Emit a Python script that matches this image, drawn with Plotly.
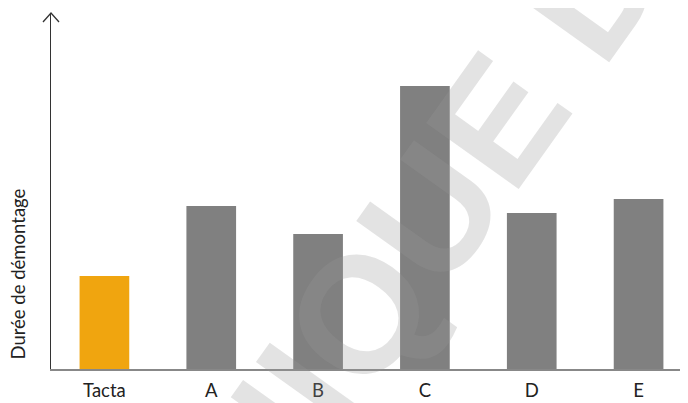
import plotly.graph_objects as go

categories = ["Tacta", "A", "B", "C", "D", "E"]
values = [93, 163, 135, 283, 156, 170]
bar_colors = ["#F0A50F", "#808080", "#808080", "#808080", "#808080", "#808080"]
y_title = "Durée de démontage"
watermark = "NIQUE DE"

OFF = 8  # page body margin
W, H = 688 - OFF, 403 - OFF
L, R, T, B = 51 - OFF, 0, 13 - OFF, 34
pw, ph = W - L - R, H - T - B

fig = go.Figure(go.Bar(x=categories, y=values, marker=dict(color=bar_colors, line=dict(width=0)),
                       width=0.465))

fig.update_layout(
    width=W, height=H,
    margin=dict(l=L, r=R, t=T, b=B, pad=0, autoexpand=False),
    paper_bgcolor="white", plot_bgcolor="white",
    showlegend=False,
    font=dict(family="Lato, 'Open Sans', sans-serif", size=18.5, color="#222"),
    xaxis=dict(range=[-0.5, 5.5 - 4 / 107.0], showline=True, linecolor="#888", linewidth=1.6,
               showgrid=False, zeroline=False, ticks="", tickfont=dict(size=18.5, color="#222"),
               ticklabelstandoff=4, fixedrange=True),
    yaxis=dict(range=[0, ph], showline=True, linecolor="#333", linewidth=1.3,
               showgrid=False, zeroline=False, showticklabels=False, ticks="", fixedrange=True),
)

# Y-axis arrow head
fig.add_shape(type="path", xref="paper", yref="paper", xsizemode="pixel", ysizemode="pixel",
              xanchor=0, yanchor=1, path="M -8,-9 L 0,0 L 8,-9",
              line=dict(color="#333", width=1.3))

# Y-axis title (bottom aligned near baseline)
fig.add_annotation(text=y_title, xref="paper", yref="paper", x=0, y=0, xshift=-(51 - 17),
                   yshift=7, xanchor="center", yanchor="bottom", textangle=-90, showarrow=False,
                   font=dict(size=18.5, color="#222"))

# Watermark (target centre in window pixels)
cx, cy = 458 - OFF, 176 - OFF
fig.add_annotation(text=watermark, xref="paper", yref="paper",
                   x=(cx - L) / pw, y=(H - B - cy) / ph, xanchor="center", yanchor="middle",
                   textangle=-54.5, showarrow=False,
                   font=dict(family="Liberation Sans, Arial, sans-serif", size=165,
                             color="rgba(150,150,150,0.27)", weight="bold"))

fig.write_html("out.html")
